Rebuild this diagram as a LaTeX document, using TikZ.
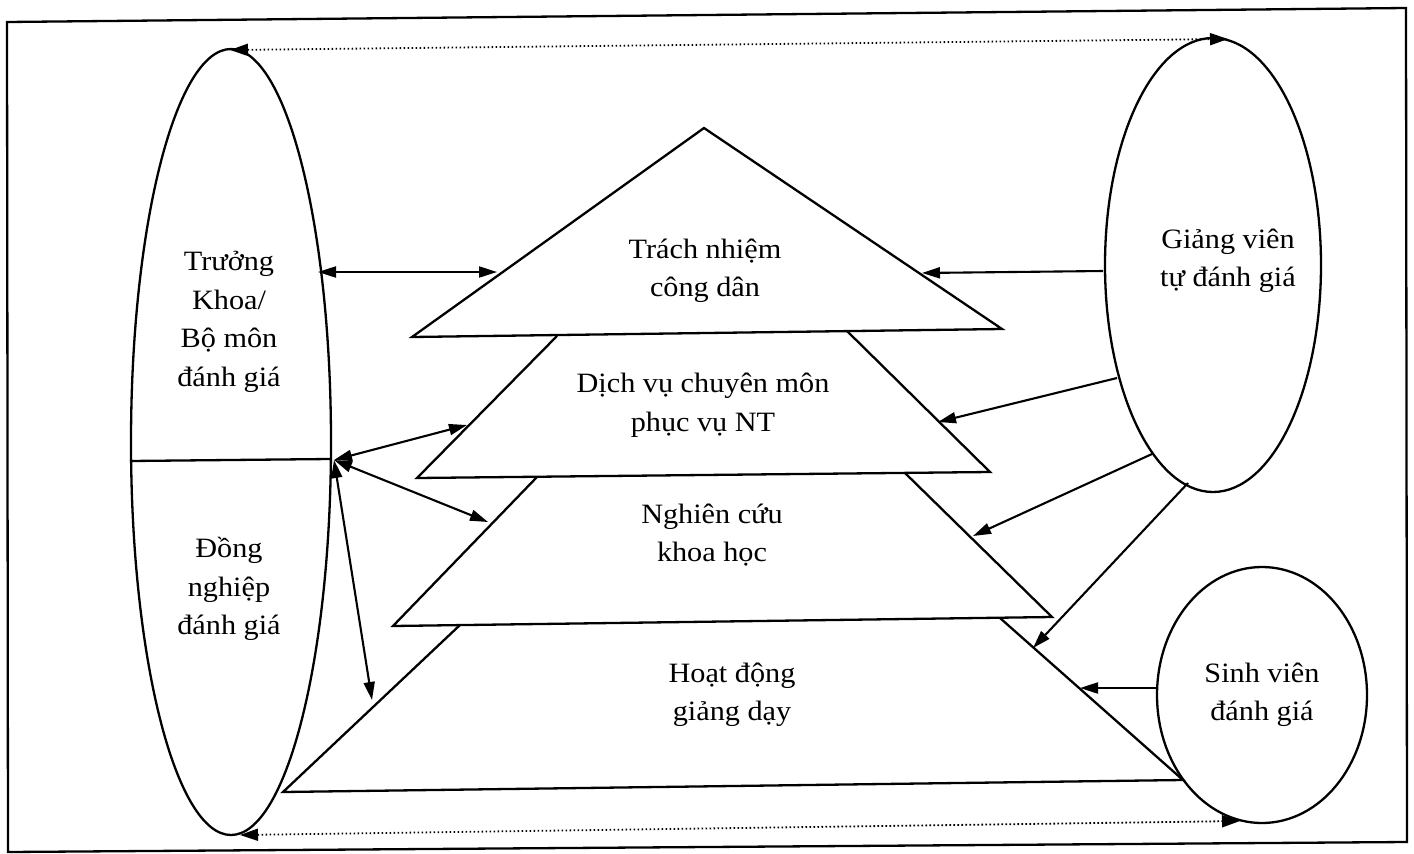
\documentclass[tikz,border=0pt]{standalone}
\usepackage{fontspec}
\setmainfont{Liberation Serif}[FakeStretch=1.08]
\usetikzlibrary{arrows.meta,shapes.geometric}

\begin{document}
\begin{tikzpicture}[x=1pt,y=-1pt, line join=miter,
  outline/.style={line width=2.3pt},
  lbl/.style={align=center, font=\fontsize{28}{38.5}\selectfont, inner sep=0pt},
  oval/.style={draw, ellipse, line width=2.3pt, inner sep=0pt},
  link/.style={line width=2.1pt, -{Triangle[length=18pt,width=11pt]}},
  both/.style={line width=2.1pt, {Triangle[length=18pt,width=11pt]}-{Triangle[length=18pt,width=11pt]}},
  dots/.style={line width=1.8pt, dash pattern=on 1.6pt off 2.4pt,
    {Triangle[length=18pt,width=12pt]}-{Triangle[length=18pt,width=12pt]}}]
\useasboundingbox (0,0) rectangle (1414,854);

% outer frame
\draw[outline] (7,22) -- (1406,8) -- (1407,842) -- (8,852) -- cycle;

% evaluators
\node[oval, minimum width=200pt, minimum height=786pt] (peer) at (231,442) {};
\node[oval, minimum width=216pt, minimum height=454pt] (self) at (1213,265) {};
\node[oval, minimum width=210pt, minimum height=256pt] (stud) at (1262,695) {};
\coordinate (divL) at (130,461);
\coordinate (divR) at (330,459);
\draw[outline] (divL) -- (divR);

% the four layers of duties
\draw[outline] (704,128) -- (412,337) -- (1002,329) -- cycle;
\draw[outline] (557,336) -- (417,478) -- (990,472) -- (847,331);
\draw[outline] (537,477) -- (393,626) -- (1052,617) -- (905,473);
\draw[outline] (460,625) -- (283,792) -- (1183,780) -- (1000,618);

% labels
\node[lbl] (civic)   at (705,271) {Trách nhiệm\\công dân};
\node[lbl] (service) at (703,405) {Dịch vụ chuyên môn\\phục vụ NT};
\node[lbl] (research) at (712,535) {Nghiên cứu\\khoa học};
\node[lbl] (teach)   at (732,695) {Hoạt động\\giảng dạy};
\node[lbl] (head)    at (229,322) {Trưởng\\Khoa/\\Bộ môn\\đánh giá};
\node[lbl] (coll)    at (229,589) {Đồng\\nghiệp\\đánh giá};
\node[lbl] (selft)   at (1228,261) {Giảng viên\\tự đánh giá};
\node[lbl] (studt)   at (1262,695) {Sinh viên\\đánh giá};

% connector ends
\coordinate (hub) at (334,460);
\coordinate (hA) at (318,272);
\coordinate (tA) at (497,272);
\coordinate (tB) at (467,425);
\coordinate (tC) at (488,522);
\coordinate (tD) at (372,700);
\coordinate (s1) at (1103,271);
\coordinate (e1) at (922,273);
\coordinate (s2) at (1117,378);
\coordinate (e2) at (938,422);
\coordinate (s3) at (1152,454);
\coordinate (e3) at (973,536);
\coordinate (s4) at (1188,483);
\coordinate (e4) at (1033,648);
\coordinate (s5) at (1157,688);
\coordinate (e5) at (1080,688);
\coordinate (topL) at (230,50);
\coordinate (topR) at (1228,39);
\coordinate (botL) at (240,835);
\coordinate (botR) at (1240,821);

% two-way links from the left evaluators
\draw[both] (hA) -- (tA);
\draw[both] (hub) -- (tB);
\draw[both] (hub) -- (tC);
\draw[both] (hub) -- (tD);

% self and student evaluation
\draw[link] (s1) -- (e1);
\draw[link] (s2) -- (e2);
\draw[link] (s3) -- (e3);
\draw[link] (s4) -- (e4);
\draw[link] (s5) -- (e5);

% dotted links between the evaluators
\draw[dots] (topL) -- (topR);
\draw[dots] (botL) -- (botR);
\end{tikzpicture}
\end{document}
